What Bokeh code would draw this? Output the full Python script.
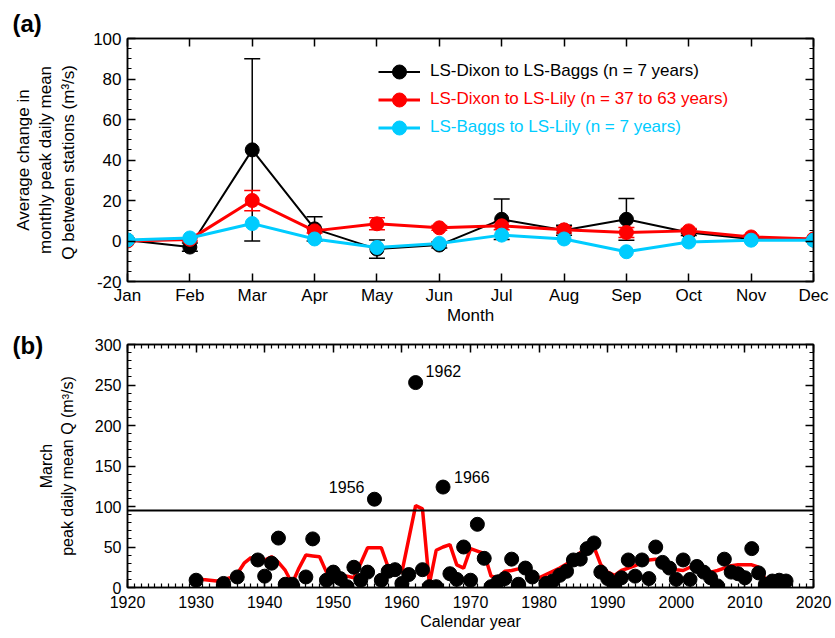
from bokeh.plotting import figure
from bokeh.layouts import column
from bokeh.models import (Whisker, TeeHead, Legend, LegendItem, LinearAxis, FixedTicker,
                          SingleIntervalTicker, Span, Range1d, ColumnDataSource, Title)
from bokeh.embed import file_html
from bokeh.resources import INLINE
from bokeh.core.properties import value

FONT = "Liberation Sans"

# ---------------- Panel (a) data ----------------
months = ["Jan", "Feb", "Mar", "Apr", "May", "Jun", "Jul", "Aug", "Sep", "Oct", "Nov", "Dec"]
month_num = [1, 2, 3, 4, 5, 6, 7, 8, 9, 10, 11, 12]
dixon_baggs = [0.4, -3, 45, 6, -4, -2, 10.7, 5.3, 10.7, 4.2, 1, 0.5]
dixon_baggs_err = [0, 2, 45, 6, 4.5, 1.5, 10, 2.5, 10.3, 1.5, 0.5, 0]
dixon_lily = [0, 0.8, 20, 5, 8.5, 6.5, 7.5, 5.5, 4.2, 5, 2, 1]
dixon_lily_err = [0.5, 0.8, 5, 1, 3, 1.2, 2, 1.5, 2.5, 1.2, 0.8, 0.3]
baggs_lily = [0.5, 1.5, 8.6, 1, -3.2, -1.2, 2.9, 1, -5.3, -0.5, 0.4, 0.4]
legend_labels = ["LS-Dixon to LS-Baggs (n = 7 years)",
                 "LS-Dixon to LS-Lily (n = 37 to 63 years)",
                 "LS-Baggs to LS-Lily (n = 7 years)"]

# ---------------- Panel (b) data ----------------
march_years = [1930, 1934, 1936, 1939, 1940, 1941, 1942, 1943, 1944, 1946, 1947,
               1949, 1950, 1951, 1952, 1953, 1954, 1955, 1956, 1957, 1958, 1959,
               1960, 1961, 1962, 1963, 1964, 1965, 1966, 1967, 1968, 1969, 1970,
               1971, 1972, 1973, 1974, 1975, 1976, 1977, 1978, 1979,
               1981, 1982, 1983, 1984, 1985, 1986, 1987, 1988, 1989, 1990,
               1991, 1992, 1993, 1994, 1995, 1996, 1997, 1998, 1999, 2000,
               2001, 2002, 2003, 2004, 2005, 2006, 2007, 2008, 2009, 2010,
               2011, 2012, 2013, 2014, 2015, 2016]
march_q = [9, 5, 13, 34, 14, 30, 61, 4, 4, 13, 60,
           9, 19, 11, 1, 25, 9, 19, 109, 9, 20, 22,
           5, 16, 253, 22, 1, 1, 124, 17, 10, 50, 9,
           78, 36, 1, 7, 11, 35, 4, 24, 13,
           5, 8, 15, 20, 34, 35, 48, 55, 19, 11,
           5, 12, 34, 14, 34, 11, 50, 31, 24, 10,
           34, 10, 26, 19, 12, 2, 35, 19, 17, 12,
           48, 18, 4, 8, 9, 8]
red_years = list(range(1930, 2014))
red_q = [12, 10, 9, 8, 10, 12, 17, 30, 37, 30,
         34, 38, 31, 21, 5, 24, 40, 39, 38, 19,
         16, 15, 14, 12, 30, 49, 49, 49, 25, 19,
         19, 60, 101, 97, 4, 46, 50, 53, 28, 24,
         48, 45, 42, 14, 12, 20, 21, 23, 25, 17,
         12, 16, 20, 24, 29, 36, 43, 47, 50, 28,
         19, 15, 21, 24, 27, 31, 34, 35, 33, 26,
         22, 21, 25, 21, 17, 19, 21, 24, 27, 28,
         28, 28, 25, 10]
threshold = 95
labeled_years = [1956, 1962, 1966]

BLACK = "#000000"
RED = "#FF0000"
CYAN = "#00CCFF"


def style_axis(ax, fs, show_labels=True):
    ax.axis_line_color = "black"
    ax.axis_line_width = 1.5
    ax.major_tick_in = 8
    ax.major_tick_out = 0
    ax.minor_tick_in = 4
    ax.minor_tick_out = 0
    ax.major_tick_line_color = "black"
    ax.major_tick_line_width = 1.5
    ax.minor_tick_line_color = "black"
    ax.minor_tick_line_width = 1.2
    ax.major_label_text_font = FONT
    ax.major_label_text_font_size = fs
    ax.major_label_text_color = "black"
    ax.major_label_standoff = 6
    ax.axis_label_text_font = FONT
    ax.axis_label_text_font_style = "normal"
    ax.axis_label_text_font_size = fs
    ax.axis_label_text_color = "black"
    if not show_labels:
        ax.major_label_text_font_size = "1px"
        ax.major_label_text_color = None
        ax.major_label_standoff = 0


# ================= Panel (a) =================
pa = figure(width=835, height=327, x_range=Range1d(1, 12), y_range=Range1d(-20, 100),
            output_backend="svg", toolbar_location=None,
            min_border_left=127, min_border_right=22, min_border_top=38, min_border_bottom=44)
pa.xgrid.visible = False
pa.ygrid.visible = False
pa.outline_line_color = "black"
pa.outline_line_width = 1.5

xt = FixedTicker(ticks=month_num, minor_ticks=[])
yt = SingleIntervalTicker(interval=20, num_minor_ticks=4)
pa.xaxis.ticker = xt
pa.yaxis.ticker = yt
pa.xaxis.major_label_overrides = {m: name for m, name in zip(month_num, months)}
pa.yaxis.major_label_overrides = {-20: "-20"}
style_axis(pa.xaxis[0], "17px")
style_axis(pa.yaxis[0], "17px")
pa.xaxis.axis_label = "Month"
pa.xaxis.major_label_standoff = 4
pa.xaxis.axis_label_standoff = -2
pa.yaxis.axis_label = "Average change in\nmonthly peak daily mean\nQ  between stations (m\u00b3/s)"
pa.yaxis.axis_label_standoff = 12

ax_r = LinearAxis(ticker=yt)
style_axis(ax_r, "17px", show_labels=False)
pa.add_layout(ax_r, "right")
ax_t = LinearAxis(ticker=xt)
style_axis(ax_t, "17px", show_labels=False)
pa.add_layout(ax_t, "above")

series = [(dixon_baggs, dixon_baggs_err, BLACK, 2),
          (dixon_lily, dixon_lily_err, RED, 3),
          (baggs_lily, None, CYAN, 3)]
legend_rows = [192.5, 164.5, 136.5]
for (vals, errs, col, lw), lab, vy in zip(series, legend_labels, legend_rows):
    data = dict(x=month_num, y=vals)
    if errs is not None:
        data["upper"] = [v + e for v, e in zip(vals, errs)]
        data["lower"] = [v - e for v, e in zip(vals, errs)]
    src = ColumnDataSource(data)
    if errs is not None:
        w = Whisker(source=src, base="x", upper="upper", lower="lower",
                    line_color=col, line_width=1.5,
                    upper_head=TeeHead(size=16, line_color=col, line_width=1.5),
                    lower_head=TeeHead(size=16, line_color=col, line_width=1.5))
        pa.add_layout(w)
    lr = pa.line("x", "y", source=src, line_color=col, line_width=lw)
    sr = pa.scatter("x", "y", source=src, marker="circle", size=14,
                    fill_color=col, line_color=col)
    leg = Legend(items=[LegendItem(label=lab, renderers=[lr, sr])],
                 location=(251, vy), glyph_width=42, glyph_height=35,
                 label_height=35, padding=0, margin=0, spacing=0,
                 border_line_color=None, background_fill_alpha=0,
                 label_text_color=col, label_text_font=FONT,
                 label_text_font_size="17px", label_standoff=10)
    pa.add_layout(leg)

pa.add_layout(Title(text="(a)", align="left", offset=-115, standoff=4,
                    text_font=FONT, text_font_style="bold", text_font_size="24px",
                    text_color="black"), "above")

# ================= Panel (b) =================
pb = figure(width=835, height=311, x_range=Range1d(1920, 2020), y_range=Range1d(0, 300),
            output_backend="svg", toolbar_location=None,
            min_border_left=127, min_border_right=22, min_border_top=17, min_border_bottom=51)
pb.xgrid.visible = False
pb.ygrid.visible = False
pb.outline_line_color = "black"
pb.outline_line_width = 1.5

bxt = SingleIntervalTicker(interval=10, num_minor_ticks=10)
byt = SingleIntervalTicker(interval=50, num_minor_ticks=5)
pb.xaxis.ticker = bxt
pb.yaxis.ticker = byt
style_axis(pb.xaxis[0], "16px")
style_axis(pb.yaxis[0], "16px")
pb.xaxis.axis_label = "Calendar year"
pb.xaxis.major_label_standoff = 8
pb.xaxis.axis_label_standoff = 2
pb.yaxis.axis_label = "March\npeak daily mean Q (m\u00b3/s)"
pb.yaxis.axis_label_standoff = 16

bx_r = LinearAxis(ticker=byt)
style_axis(bx_r, "16px", show_labels=False)
pb.add_layout(bx_r, "right")
bx_t = LinearAxis(ticker=bxt)
style_axis(bx_t, "16px", show_labels=False)
pb.add_layout(bx_t, "above")

pb.line(red_years, red_q, line_color=RED, line_width=3.5)
pb.add_layout(Span(location=threshold, dimension="width", line_color="black", line_width=2))
pb.scatter(march_years, march_q, marker="circle", size=14, fill_color="black", line_color="black")

lookup = dict(zip(march_years, march_q))
label_style = {1956: ("right", -10, -12), 1962: ("left", 10, -12), 1966: ("left", 11, -10)}
for yr in labeled_years:
    al, xo, yo = label_style[yr]
    pb.text(x=[yr], y=[lookup[yr]], text=[str(yr)], text_align=al, text_baseline="middle",
            x_offset=xo, y_offset=yo, text_font=value(FONT), text_font_size="16px",
            text_color="black")

pb.add_layout(Title(text="(b)", align="left", offset=-115, standoff=-28,
                    vertical_align="bottom",
                    text_font=FONT, text_font_style="bold", text_font_size="24px",
                    text_color="black"), "above")

layout = column(pa, pb, spacing=0)
open("out.html", "w").write(file_html(layout, INLINE))
